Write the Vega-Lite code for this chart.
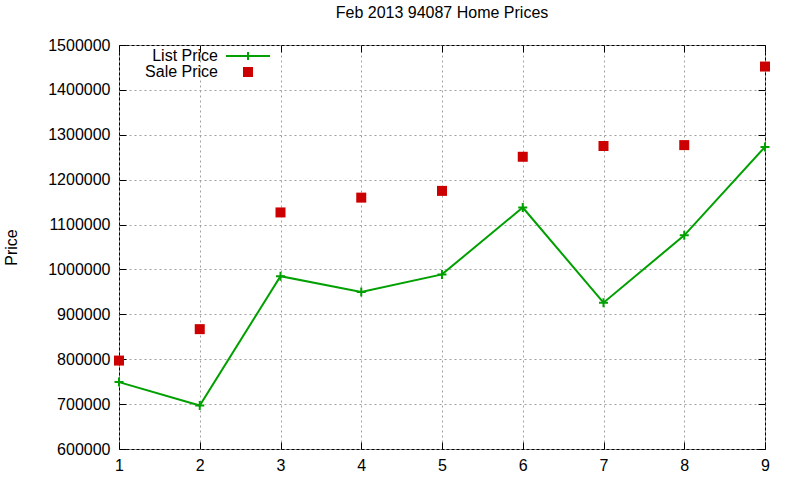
{
  "$schema": "https://vega.github.io/schema/vega-lite/v6.json",
  "width": 646,
  "height": 404,
  "autosize": "none",
  "padding": {"left": 119, "top": 45, "right": 35, "bottom": 31},
  "background": "white",
  "title": {
    "text": "Feb 2013 94087 Home Prices",
    "font": "Liberation Sans",
    "fontSize": 16,
    "fontWeight": "normal",
    "color": "#000000",
    "offset": 16
  },
  "config": {
    "view": {"stroke": "#000000", "strokeWidth": 1},
    "axis": {
      "labelFont": "Liberation Sans",
      "labelFontSize": 16,
      "labelColor": "#000000",
      "labelOverlap": false,
      "titleFont": "Liberation Sans",
      "titleFontSize": 16,
      "titleFontWeight": "normal",
      "titleColor": "#000000",
      "domain": false,
      "tickColor": "#000000",
      "tickSize": -7,
      "gridColor": "#a0a0a0",
      "gridDash": [2, 3],
      "gridOpacity": 1,
      "gridWidth": 1
    },
    "legend": {
      "labelFont": "Liberation Sans",
      "labelFontSize": 16,
      "labelColor": "#000000"
    }
  },
  "data": {
    "values": [
      {"month": 1, "series": "List Price", "price": 749000},
      {"month": 2, "series": "List Price", "price": 697000},
      {"month": 3, "series": "List Price", "price": 985000},
      {"month": 4, "series": "List Price", "price": 950000},
      {"month": 5, "series": "List Price", "price": 989000},
      {"month": 6, "series": "List Price", "price": 1138000},
      {"month": 7, "series": "List Price", "price": 926000},
      {"month": 8, "series": "List Price", "price": 1076000},
      {"month": 9, "series": "List Price", "price": 1273000},
      {"month": 1, "series": "Sale Price", "price": 797000},
      {"month": 2, "series": "Sale Price", "price": 867000},
      {"month": 3, "series": "Sale Price", "price": 1127000},
      {"month": 4, "series": "Sale Price", "price": 1160000},
      {"month": 5, "series": "Sale Price", "price": 1175000},
      {"month": 6, "series": "Sale Price", "price": 1251000},
      {"month": 7, "series": "Sale Price", "price": 1275000},
      {"month": 8, "series": "Sale Price", "price": 1277000},
      {"month": 9, "series": "Sale Price", "price": 1452000}
    ]
  },
  "resolve": {"axis": {"x": "independent", "y": "independent"}},
  "layer": [
    {
      "transform": [{"filter": "datum.series === 'List Price'"}],
      "mark": {"type": "line", "color": "#00a000", "strokeWidth": 2},
      "encoding": {
        "x": {
          "field": "month",
          "type": "quantitative",
          "scale": {"domain": [1, 9], "nice": false, "zero": false},
          "axis": {"title": null, "values": [1, 2, 3, 4, 5, 6, 7, 8, 9], "format": "d", "labelPadding": 15, "labelFlush": false}
        },
        "y": {
          "field": "price",
          "type": "quantitative",
          "scale": {"domain": [600000, 1500000], "nice": false, "zero": false},
          "axis": {"title": "Price", "values": [600000, 700000, 800000, 900000, 1000000, 1100000, 1200000, 1300000, 1400000, 1500000], "format": "d", "labelPadding": 16, "titlePadding": 28, "labelFlush": false}
        }
      }
    },
    {
      "transform": [{"filter": "datum.series === 'List Price'"}],
      "mark": {"type": "point", "shape": "M-1,0H1M0,-1V1", "size": 81, "filled": false, "stroke": "#00a000", "strokeWidth": 2, "opacity": 1},
      "encoding": {
        "x": {
          "field": "month",
          "type": "quantitative",
          "axis": {"orient": "top", "values": [1, 2, 3, 4, 5, 6, 7, 8, 9], "labels": false, "grid": false, "title": null}
        },
        "y": {
          "field": "price",
          "type": "quantitative",
          "axis": {"orient": "right", "values": [600000, 700000, 800000, 900000, 1000000, 1100000, 1200000, 1300000, 1400000, 1500000], "labels": false, "grid": false, "title": null}
        }
      }
    },
    {
      "transform": [{"filter": "datum.series === 'Sale Price'"}],
      "mark": {"type": "point", "filled": true, "size": 100, "opacity": 1, "strokeWidth": 0},
      "encoding": {
        "x": {"field": "month", "type": "quantitative", "axis": null},
        "y": {"field": "price", "type": "quantitative", "axis": null},
        "color": {
          "field": "series",
          "type": "nominal",
          "scale": {"domain": ["List Price", "Sale Price"], "range": ["#00a000", "#cc0000"]},
          "legend": {
            "title": null,
            "orient": "none",
            "legendX": 121,
            "legendY": 3,
            "symbolSize": 64,
            "symbolStrokeWidth": 2,
            "labelAlign": "right",
            "labelOffset": -38,
            "rowPadding": 0
          }
        },
        "stroke": {
          "field": "series",
          "type": "nominal",
          "scale": {"domain": ["List Price", "Sale Price"], "range": ["#00a000", "#cc0000"]}
        },
        "shape": {
          "field": "series",
          "type": "nominal",
          "scale": {"domain": ["List Price", "Sale Price"], "range": ["M-5.5,0H5.5M0,-1V1", "square"]}
        }
      }
    }
  ]
}
